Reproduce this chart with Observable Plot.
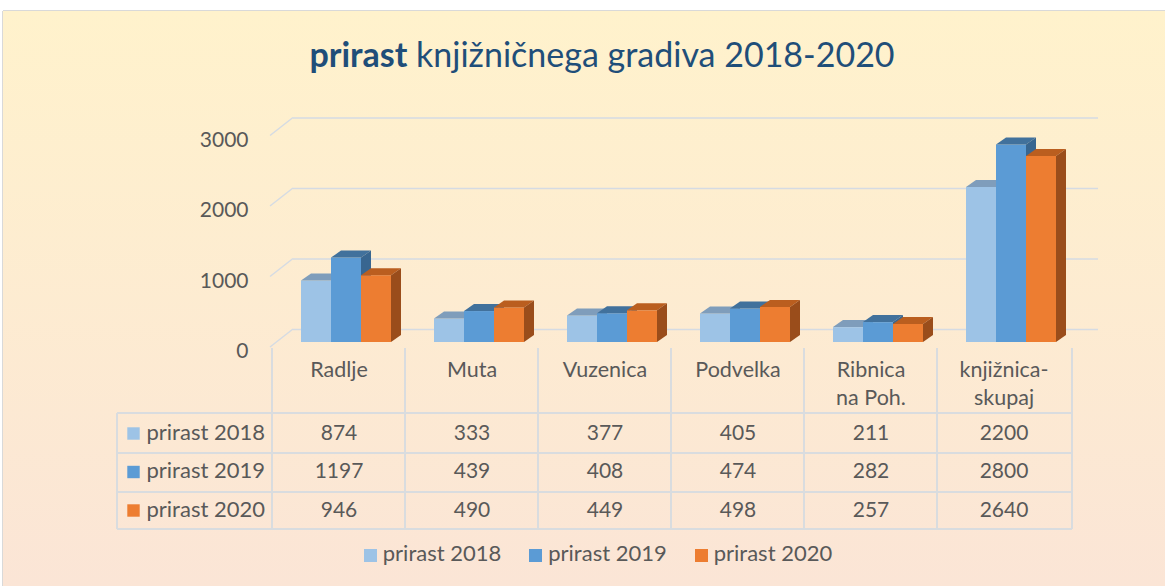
<!DOCTYPE html>
<html><head><meta charset="utf-8">
<script src="https://cdn.jsdelivr.net/npm/d3@7"></script>
<script src="https://cdn.jsdelivr.net/npm/@observablehq/plot@0.6"></script>
<style>
html,body{margin:0;padding:0;background:#fff;}
#chart{position:absolute;left:3px;top:11px;width:1162px;height:575px;overflow:hidden;
  background:linear-gradient(#FFF2CC,#FBE5D6);box-shadow:0 -1px 0 #d9d9d9,-1px 0 0 #d9d9d9;font-family:Lato,sans-serif;}
#title{position:absolute;left:0;top:23px;width:1162px;box-sizing:border-box;padding-left:36px;text-align:center;
  line-height:40px;font-size:34px;color:#1F4E79;white-space:nowrap;}
#plot{position:absolute;left:0;top:79px;}
#legend{position:absolute;left:0;top:524px;width:1162px;height:36px;line-height:36px;box-sizing:border-box;padding-left:28px;
  text-align:center;font-size:22px;color:#595959;white-space:nowrap;}
#legend .item{display:inline-block;margin:0 14px;}
#legend .sw{display:inline-block;width:13px;height:13px;margin-right:6px;vertical-align:-1px;}
</style></head>
<body>
<div id="chart">
  <div id="title"><b>prirast</b> knjižničnega gradiva 2018-2020</div>
  <div id="plot"></div>
  <div id="legend"></div>
</div>
<script>
const categories = ["Radlje", "Muta", "Vuzenica", "Podvelka", "Ribnica\nna Poh.", "knjižnica-\nskupaj"];
const seriesNames = ["prirast 2018", "prirast 2019", "prirast 2020"];
const prirast2018 = [874, 333, 377, 405, 211, 2200];
const prirast2019 = [1197, 439, 408, 474, 282, 2800];
const prirast2020 = [946, 490, 449, 498, 257, 2640];
const yTicks = [0, 1000, 2000, 3000];

const seriesValues = [prirast2018, prirast2019, prirast2020];
const rows = seriesNames.flatMap((s, si) => categories.map((c, ci) => ({series: s, si, category: c, value: seriesValues[si][ci]})));

const faces = [
  {front: "#9DC3E6", top: "#7F9DBB", side: "#7190AD"},
  {front: "#5B9BD5", top: "#41719C", side: "#386690"},
  {front: "#ED7D31", top: "#BA5E1F", side: "#9A4D1B"}
];
const textColor = "#595959";
const gridColor = "#D5DBE3";
const tableColor = "#D9DCDF";
const DX = 10, DY = -7;
const W = 1162, H = 445;

function prism(si) {
  return (index, scales, values, dims) => {
    const g = d3.create("svg:g");
    const f = faces[si];
    for (const i of index) {
      const x0 = values.x[i] + 29 + 30 * si, x1 = x0 + 30;
      const yb = values.y1[i], yt = values.y2[i];
      const poly = (pts, fill) => g.append("polygon").attr("points", pts.map(p => p.join(",")).join(" ")).attr("fill", fill);
      poly([[x0, yb], [x1, yb], [x1, yt], [x0, yt]], f.front);
      poly([[x0, yt], [x0 + DX, yt + DY], [x1 + DX, yt + DY], [x1, yt]], f.top);
      poly([[x1, yb], [x1 + DX, yb + DY], [x1 + DX, yt + DY], [x1, yt]], f.side);
    }
    return g.node();
  };
}

function diagonals(index, scales, values, dims) {
  const g = d3.create("svg:g");
  const xl = dims.marginLeft;
  for (const i of index) {
    const y = values.y[i];
    g.append("line").attr("x1", xl).attr("y1", y + 5).attr("x2", xl + 23).attr("y2", y - 13)
      .attr("stroke", gridColor).attr("stroke-width", 1.5);
  }
  return g.node();
}

function tableGrid(index, scales, values, dims) {
  const g = d3.create("svg:g").attr("stroke", tableColor).attr("stroke-width", 2);
  const xl = dims.marginLeft, xr = dims.width - dims.marginRight;
  const yb = dims.height - dims.marginBottom;
  const left = xl - 153;
  [71, 111, 150, 187].forEach(d => g.append("line").attr("x1", left).attr("x2", xr).attr("y1", yb + d).attr("y2", yb + d));
  for (let k = 0; k <= categories.length; k++) {
    const x = (k < categories.length ? scales.x(categories[k]) : xr);
    g.append("line").attr("x1", x).attr("x2", x).attr("y1", yb + 6).attr("y2", yb + 187);
  }
  g.append("line").attr("x1", left).attr("x2", left).attr("y1", yb + 71).attr("y2", yb + 187);
  return g.node();
}

const rowDy = si => 91 + 38.5 * si;

const marks = [
  Plot.ruleY(yTicks, {dx: 23, dy: -13, insetRight: -3, stroke: gridColor, strokeWidth: 1.5}),
  Plot.ruleY(yTicks, {render: diagonals}),
  Plot.frame({render: tableGrid}),
  ...seriesNames.map((s, si) => Plot.barY(rows.filter(r => r.si === si), {x: "category", y: "value", render: prism(si)})),
  Plot.text(yTicks, {y: d => d, text: d => String(d), frameAnchor: "left", textAnchor: "end", dx: -22, dy: 9, fontSize: 21, fill: textColor}),
  Plot.text(categories, {x: d => d, text: d => d, frameAnchor: "bottom", lineAnchor: "top", dy: 15, lineHeight: 1.29, fontSize: 21.5, fill: textColor}),
  ...seriesNames.map((s, si) => Plot.text(rows.filter(r => r.si === si), {x: "category", text: d => String(d.value), frameAnchor: "bottom", dy: rowDy(si) + 6, fontSize: 21, fill: textColor})),
  ...seriesNames.map((s, si) => Plot.text([s], {text: d => d, frameAnchor: "bottom-left", textAnchor: "start", dx: -124, dy: rowDy(si) + 6, fontSize: 22, fill: textColor})),
  ...seriesNames.map((s, si) => Plot.dot([s], {frameAnchor: "bottom-left", dx: -137, dy: rowDy(si), symbol: "square", r: 7, fill: faces[si].front, stroke: "none"}))
];

const chart = Plot.plot({
  width: W, height: H,
  marginLeft: 267, marginRight: 93, marginTop: 40, marginBottom: 193,
  x: {type: "band", domain: categories, range: [267, 1069], paddingInner: 0, paddingOuter: 0, axis: null},
  y: {domain: [0, 3000], range: [252, 40.5], axis: null},
  style: {background: "transparent", fontFamily: "Lato, sans-serif", overflow: "visible"},
  marks
});
document.getElementById("plot").appendChild(chart);

const legend = d3.select("#legend");
seriesNames.forEach((s, si) => {
  const it = legend.append("span").attr("class", "item");
  it.append("span").attr("class", "sw").style("background", faces[si].front);
  it.append("span").text(s);
});
</script>
</body></html>
